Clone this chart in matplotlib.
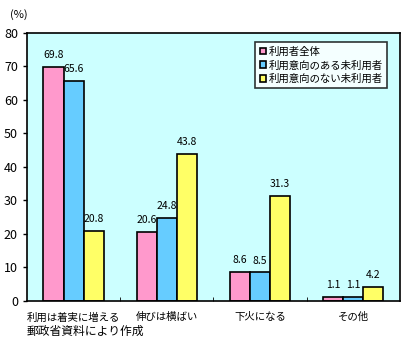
import numpy as np
import matplotlib.pyplot as plt

plt.rcParams['font.family'] = ['Noto Sans CJK JP', 'DejaVu Sans']

categories = ["利用は着実に増える", "伸びは横ばい", "下火になる", "その他"]
series_names = ["利用者全体", "利用意向のある未利用者", "利用意向のない未利用者"]
all_users = [69.8, 20.6, 8.6, 1.1]
willing = [65.6, 24.8, 8.5, 1.1]
unwilling = [20.8, 43.8, 31.3, 4.2]
colors = ["#FF99CC", "#66CCFF", "#FFFF66"]

fig = plt.figure(figsize=(4.02, 3.42), dpi=100)
ax = fig.add_axes([0.067, 0.12, 0.928, 0.7835])
ax.set_facecolor("#CCFFFF")

x = np.arange(len(categories))
width = 0.215
for i, (vals, c, name) in enumerate(zip([all_users, willing, unwilling], colors, series_names)):
    pos = x + (i - 1) * width
    ax.bar(pos, vals, width, color=c, edgecolor="black", linewidth=1.2, label=name)
    for p, v in zip(pos, vals):
        ax.annotate(f"{v}", (p, v), xytext=(0, 5), textcoords="offset points",
                    ha="center", va="bottom", fontsize=7.5)

ax.set_xlim(-0.5, len(categories) - 0.5)
ax.set_ylim(0, 80)
ax.set_yticks(range(0, 81, 10))
ax.tick_params(axis="y", labelsize=9, length=3, width=1)
ax.set_xticks(x)
ax.set_xticklabels(categories, fontsize=7.5)
ax.tick_params(axis="x", length=0, pad=8)
ax.set_xticks(np.arange(0.5, len(categories) - 0.5), minor=True)
ax.tick_params(axis="x", which="minor", direction="in", length=3)
for s in ax.spines.values():
    s.set_linewidth(1.2)

fig.text(10 / 402, 1 - 15 / 342, "(%)", fontsize=8, ha="left", va="center")
leg = ax.legend(loc="upper right", bbox_to_anchor=(0.98, 0.985), fontsize=7.5,
                frameon=True, fancybox=False, edgecolor="black", handlelength=0.6,
                handleheight=0.6, handletextpad=0.3, labelspacing=0.35, borderpad=0.4)
leg.get_frame().set_linewidth(1.2)
fig.text(27 / 402, 1 - 331 / 342, "郵政省資料により作成", fontsize=8.5, ha="left", va="center")

fig.savefig("out.png", dpi=100)
